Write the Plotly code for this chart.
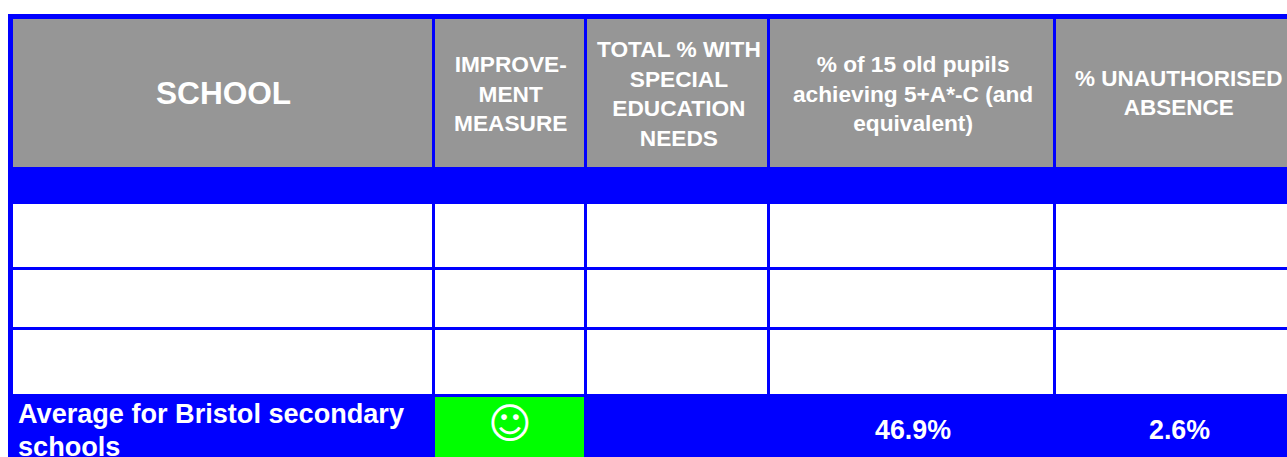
import plotly.graph_objects as go

# ---- data (text content) ----
header_labels = ["SCHOOL", "IMPROVE-<br>MENT<br>MEASURE",
                 "TOTAL % WITH<br>SPECIAL<br>EDUCATION<br>NEEDS",
                 "% of 15 old pupils<br>achieving 5+A*-C (and<br>equivalent)",
                 "% UNAUTHORISED<br>ABSENCE"]
average_lines = ["Average for Bristol secondary", "schools"]
average_symbol = "\u263A"
average_values = ["46.9%", "2.6%"]

# ---- layout geometry (px) ----
W, H = 1287, 457
BLUE, GREY, GREEN = "#0000ff", "#969696", "#00ff00"
col_edges = [(13, 432), (435, 584), (587, 767), (770, 1053), (1056, 1287)]
col_centres = [223, 510.5, 678.5, 913, 1179]
head_y = (19, 167)
white_rows = [(204, 267), (270, 327), (330, 394)]
foot_y = 397

shapes = [dict(type="rect", x0=8, x1=W, y0=14, y1=H, fillcolor=BLUE, line_width=0, layer="below")]
for x0, x1 in col_edges:
    shapes.append(dict(type="rect", x0=x0, x1=x1, y0=head_y[0], y1=head_y[1],
                       fillcolor=GREY, line_width=0, layer="below"))
    for y0, y1 in white_rows:
        shapes.append(dict(type="rect", x0=x0, x1=x1, y0=y0, y1=y1,
                           fillcolor="white", line_width=0, layer="below"))
shapes.append(dict(type="rect", x0=435, x1=584, y0=foot_y, y1=H,
                   fillcolor=GREEN, line_width=0, layer="below"))

FONT = "Liberation Sans"
def label(x, y, text, size, anchor="center"):
    return dict(x=x, y=y, text="<b>%s</b>" % text, showarrow=False, xanchor=anchor, yanchor="middle",
                align=anchor, font=dict(family=FONT, size=size, color="white"))

head_sizes = [31.6, 22.7, 22.7, 22.7, 22.5]
annotations = [label(c, 93, t, s) for c, t, s in zip(col_centres, header_labels, head_sizes)]
annotations.append(label(16, 413, average_lines[0], 27.1, "left"))
annotations.append(label(16, 446, average_lines[1], 27.1, "left"))
annotations.append(dict(x=509.5, y=423, text="<b>%s</b>" % average_symbol, showarrow=False,
                        font=dict(family="DejaVu Sans", size=42, color="white")))
annotations.append(label(913, 430, average_values[0], 26.8))
annotations.append(label(1179, 430, average_values[1], 26.8))

fig = go.Figure()
fig.update_layout(
    width=W, height=H, margin=dict(l=0, r=0, t=0, b=0),
    paper_bgcolor="white", plot_bgcolor="white", showlegend=False,
    xaxis=dict(range=[0, W], visible=False, fixedrange=True),
    yaxis=dict(range=[H, 0], visible=False, fixedrange=True),
    shapes=shapes, annotations=annotations,
)
fig.write_html("out.html", config=dict(displayModeBar=False),
               post_script="document.body.style.margin='0';document.body.style.overflow='hidden';")
